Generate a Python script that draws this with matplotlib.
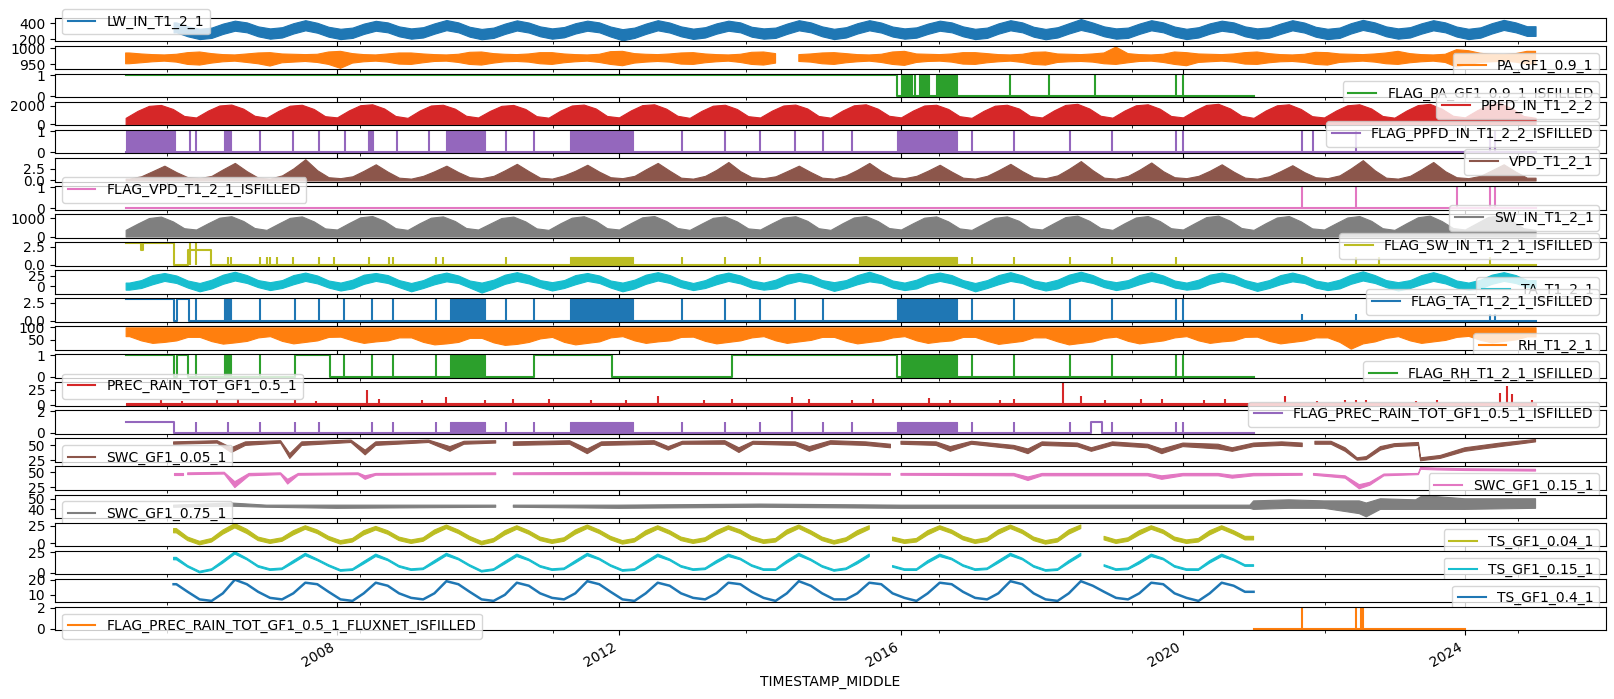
import numpy as np
import matplotlib
matplotlib.use("Agg")
import matplotlib.pyplot as plt
import matplotlib.dates as mdates
from matplotlib.lines import Line2D
from matplotlib.ticker import MultipleLocator

nan = np.nan
N = None

# ---- time helpers (decimal years) ----
YEARS = list(range(2005, 2026))
RAD = [0.0, 0.17, 0.33, 0.5, 0.67, 0.83]      # Jan, Mar, May, Jul, Sep, Nov (1st)
TMP = [0.05, 0.22, 0.38, 0.55, 0.72, 0.88]    # same months, 20th


def yr(v):
    v = np.atleast_1d(np.asarray(v, dtype=float))
    out = []
    for x in v:
        y = int(np.floor(x))
        out.append(np.datetime64(f"{y}-01-01") + np.timedelta64(int(round((x - y) * 365.25 * 86400)), "s"))
    return np.array(out)


def grid(rows, offs, start, end):
    t, v = [], []
    for y, row in zip(YEARS, rows):
        for o, val in zip(offs, row):
            if start <= y + o <= end:
                t.append(y + o)
                v.append(nan if val is None else val)
    if t[0] > start:
        t.insert(0, start); v.insert(0, v[0])
    if t[-1] < end:
        t.append(end); v.append(v[-1])
    return t, v


# ---- data (one row per year, 2005 ...) ----
lw_lo = [[N, N, N, N, 285, 235], [200, 215, 265, 305, 285, 235], [205, 220, 270, 310, 280, 230],
         [200, 215, 265, 305, 285, 235], [205, 220, 268, 312, 285, 230], [198, 215, 265, 308, 282, 235],
         [205, 222, 270, 305, 285, 232], [185, 215, 265, 310, 282, 235], [202, 220, 268, 305, 285, 230],
         [205, 215, 265, 310, 285, 235], [200, 220, 270, 310, 282, 232], [205, 218, 265, 305, 285, 235],
         [200, 215, 268, 310, 285, 230], [198, 220, 270, 315, 282, 235], [205, 215, 265, 310, 285, 232],
         [200, 220, 268, 305, 285, 235], [205, 218, 265, 310, 282, 230], [200, 215, 270, 315, 285, 235],
         [205, 220, 268, 310, 285, 232], [200, 218, 270, 315, 285, 240]]
lw_hi = [[N, N, N, N, 410, 360], [330, 345, 395, 432, 410, 360], [335, 350, 400, 438, 405, 355],
         [330, 345, 395, 430, 410, 360], [335, 350, 398, 440, 410, 355], [328, 345, 395, 436, 408, 360],
         [335, 352, 400, 432, 410, 358], [325, 345, 395, 438, 408, 360], [332, 350, 398, 432, 410, 355],
         [335, 345, 395, 438, 410, 360], [330, 350, 400, 438, 408, 358], [335, 348, 395, 432, 410, 360],
         [330, 345, 398, 438, 410, 355], [328, 350, 400, 452, 408, 360], [335, 345, 395, 438, 410, 358],
         [330, 350, 398, 432, 410, 360], [335, 348, 395, 438, 408, 355], [330, 345, 400, 442, 410, 360],
         [335, 350, 398, 438, 410, 358], [330, 348, 400, 442, 410, 362]]

pa_lo = [[952, 955, 958, 960, 957, 950], [948, 954, 958, 960, 956, 952], [945, 955, 957, 959, 956, 950],
         [938, 954, 958, 960, 957, 951], [950, 955, 959, 960, 956, 950], [948, 954, 958, 959, 957, 952],
         [950, 955, 958, 960, 956, 950], [946, 954, 957, 959, 957, 951], [950, 955, 958, 960, 956, 950],
         [948, 954, N, 959, 957, 952], [950, 955, 958, 960, 956, 950], [947, 956, 959, 960, 957, 951],
         [950, 955, 958, 960, 956, 950], [948, 956, 958, 959, 957, 952], [950, 955, 959, 960, 956, 950],
         [946, 956, 958, 960, 957, 951], [950, 955, 958, 959, 956, 950], [948, 956, 958, 960, 957, 952],
         [950, 955, 958, 960, 956, 942], [950, 956, 958, 960, 957, 951]]
pa_hi = [[985, 982, 980, 979, 981, 986], [988, 983, 980, 979, 982, 985], [986, 982, 981, 980, 981, 988],
         [990, 983, 980, 979, 982, 985], [985, 982, 980, 979, 981, 987], [988, 983, 981, 980, 982, 986],
         [986, 982, 980, 979, 981, 989], [990, 983, 981, 980, 982, 985], [986, 982, 980, 979, 981, 987],
         [988, 983, N, 980, 982, 985], [986, 983, 980, 979, 981, 988], [990, 982, 981, 980, 982, 986],
         [986, 983, 980, 979, 981, 987], [988, 982, 981, 980, 982, 985], [1003, 983, 980, 979, 981, 988],
         [986, 982, 981, 980, 982, 986], [988, 983, 980, 979, 981, 987], [986, 982, 981, 980, 982, 985],
         [990, 983, 980, 979, 981, 995], [992, 984, 981, 980, 983, 990]]

ppfd_hi = [[700, 1450, 1980, 2080, 1650, 900], [740, 1480, 2020, 2120, 1680, 920], [720, 1450, 2000, 2100, 1650, 880],
           [750, 1500, 2050, 2150, 1700, 900], [700, 1480, 2020, 2100, 1680, 920], [740, 1450, 1980, 2080, 1650, 880],
           [720, 1480, 2020, 2120, 1700, 900], [750, 1500, 2060, 2150, 1680, 920], [700, 1450, 2000, 2100, 1650, 880],
           [740, 1480, 2020, 2120, 1700, 900], [720, 1480, 2040, 2150, 1680, 920], [750, 1480, 2020, 2100, 1650, 880],
           [700, 1450, 2000, 2100, 1700, 900], [740, 1500, 2080, 2200, 1700, 920], [720, 1480, 2040, 2150, 1680, 900],
           [750, 1500, 2080, 2200, 1700, 920], [700, 1480, 2040, 2150, 1650, 880], [740, 1480, 2040, 2150, 1700, 900],
           [720, 1480, 2060, 2200, 1680, 920], [750, 1500, 2100, 2270, 1700, 900], [700]]
sw_hi = [[360, 700, 1000, 1080, 820, 450], [380, 720, 1020, 1100, 840, 460], [360, 700, 1010, 1090, 820, 440],
         [380, 730, 1040, 1110, 850, 450], [360, 720, 1020, 1090, 840, 460], [380, 700, 1000, 1080, 820, 440],
         [360, 720, 1020, 1100, 850, 450], [380, 730, 1040, 1110, 840, 460], [360, 700, 1010, 1090, 820, 440],
         [380, 720, 1020, 1100, 850, 450], [360, 720, 1030, 1110, 840, 460], [380, 720, 1020, 1090, 820, 440],
         [360, 700, 1010, 1090, 850, 450], [380, 730, 1050, 1130, 850, 460], [360, 720, 1030, 1110, 840, 450],
         [380, 730, 1050, 1130, 850, 460], [360, 720, 1030, 1110, 820, 440], [380, 720, 1030, 1110, 850, 450],
         [360, 720, 1040, 1130, 840, 460], [380, 730, 1060, 1150, 850, 450], [360]]
vpd_hi = [[0.4, 0.9, 2.0, 3.2, 1.8, 0.7], [0.5, 1.0, 2.4, 3.8, 2.0, 0.6], [0.4, 1.1, 2.6, 4.6, 2.2, 0.7],
          [0.5, 0.9, 2.1, 3.5, 1.9, 0.6], [0.4, 1.0, 2.0, 3.2, 1.8, 0.7], [0.5, 1.0, 2.2, 3.6, 2.0, 0.6],
          [0.4, 1.1, 2.1, 3.4, 1.9, 0.7], [0.5, 1.0, 2.4, 3.8, 2.1, 0.6], [0.4, 1.0, 2.3, 4.0, 2.0, 0.7],
          [0.5, 0.9, 2.0, 3.2, 1.8, 0.6], [0.4, 1.1, 2.3, 3.8, 2.0, 0.7], [0.5, 1.0, 2.1, 3.4, 1.9, 0.6],
          [0.4, 1.0, 2.2, 3.6, 2.0, 0.7], [0.5, 1.1, 2.5, 4.2, 2.2, 0.6], [0.4, 1.0, 2.3, 3.9, 2.0, 0.7],
          [0.5, 1.0, 2.1, 3.5, 1.9, 0.6], [0.4, 0.9, 2.0, 3.3, 1.8, 0.7], [0.5, 1.1, 2.6, 4.4, 2.2, 0.6],
          [0.4, 1.0, 2.4, 4.0, 2.0, 0.7], [0.5, 1.0, 2.2, 3.5, 1.9, 0.6]]
ta_lo = [[-8, -4, 5, 13, 8, -3], [-12, -5, 6, 14, 8, -2], [-9, -4, 5, 13, 7, -3], [-10, -5, 6, 13, 8, -2],
         [-12, -4, 5, 12, 8, -3], [-15, -5, 6, 13, 7, -2], [-10, -4, 5, 13, 8, -3], [-12, -5, 6, 14, 8, -2],
         [-9, -4, 5, 13, 7, -3], [-8, -5, 6, 13, 8, -2], [-11, -4, 5, 12, 8, -3], [-9, -5, 6, 13, 7, -2],
         [-12, -4, 5, 13, 8, -3], [-10, -5, 6, 14, 8, -2], [-9, -4, 5, 13, 7, -3], [-8, -5, 6, 13, 8, -2],
         [-11, -4, 5, 12, 8, -3], [-9, -5, 6, 14, 8, -2], [-10, -4, 5, 13, 7, -3], [-8, -5, 6, 13, 8, -2]]
ta_hi = [[9, 15, 27, 32, 26, 14], [8, 16, 28, 35, 27, 15], [10, 15, 27, 33, 26, 14], [9, 16, 28, 32, 27, 15],
         [8, 15, 27, 33, 26, 14], [9, 16, 28, 34, 27, 15], [10, 15, 27, 32, 26, 14], [9, 16, 28, 34, 27, 15],
         [8, 15, 27, 33, 26, 14], [9, 16, 28, 32, 27, 15], [10, 15, 27, 35, 26, 14], [9, 16, 28, 33, 27, 15],
         [8, 15, 27, 34, 26, 14], [9, 16, 28, 35, 27, 15], [10, 15, 27, 34, 26, 14], [9, 16, 28, 33, 27, 15],
         [8, 15, 27, 33, 26, 14], [9, 16, 28, 36, 27, 15], [10, 15, 27, 34, 26, 14], [9, 16, 28, 34, 27, 15]]
rh_lo = [[65, 48, 38, 42, 48, 62], [62, 45, 35, 40, 46, 60], [65, 46, 36, 42, 48, 62], [63, 48, 38, 44, 48, 60],
         [60, 42, 32, 36, 42, 58], [58, 40, 30, 34, 42, 56], [62, 42, 32, 38, 44, 60], [65, 48, 38, 44, 48, 62],
         [63, 46, 36, 42, 48, 60], [65, 48, 38, 44, 50, 62], [62, 46, 36, 42, 48, 60], [65, 48, 38, 44, 48, 62],
         [62, 46, 34, 40, 46, 60], [60, 44, 32, 38, 44, 58], [63, 46, 36, 42, 48, 60], [65, 48, 38, 44, 48, 62],
         [63, 46, 36, 42, 48, 60], [60, 42, 15, 36, 44, 58], [65, 48, 38, 44, 50, 62], [66, 50, 40, 46, 52, 64]]
ts04_lo = [[N, N, N, N, 15, 4], [-2, 2, 13, 22, 14, 4], [0, 3, 12, 20, 14, 5], [-1, 2, 12, 19, 13, 4],
           [0, 3, 13, 21, 14, 5], [-2, 2, 12, 20, 13, 4], [0, 3, 13, 21, 14, 5], [-1, 2, 12, 20, 13, 4],
           [0, 3, 12, 20, 14, 5], [0, 2, 13, 21, 13, 4], [-1, 3, 12, 20, N, 4], [0, 2, 12, 20, 14, 5],
           [0, 3, 13, 21, 14, 4], [-1, 2, 13, 21, N, 5], [0, 3, 12, 20, 14, 4], [0, 2, 12, 20, 13, 5]]
ts04_hi = [[N, N, N, N, 21, 9], [3, 7, 19, 28, 20, 9], [5, 8, 18, 25, 19, 10], [4, 7, 18, 24, 18, 9],
           [5, 8, 19, 26, 19, 10], [3, 7, 18, 25, 18, 9], [5, 8, 19, 26, 19, 10], [4, 7, 18, 25, 18, 9],
           [5, 8, 18, 25, 19, 10], [5, 7, 19, 26, 18, 9], [4, 8, 18, 25, N, 9], [5, 7, 18, 25, 19, 10],
           [5, 8, 19, 26, 19, 9], [4, 7, 19, 26, N, 10], [5, 8, 18, 25, 19, 9], [5, 7, 18, 25, 18, 10]]
ts15_lo = [[N, N, N, N, 16, 7], [0, 3, 12, 23, 16, 7], [3, 4, 12, 21, 15, 8], [2, 3, 11, 20, 15, 7],
           [3, 4, 12, 21, 16, 8], [1, 3, 11, 20, 15, 7], [3, 4, 12, 21, 16, 8], [2, 3, 11, 20, 15, 7],
           [3, 4, 12, 20, 16, 8], [3, 3, 12, 21, 15, 7], [2, 4, 11, 20, N, 7], [3, 3, 12, 20, 16, 8],
           [3, 4, 12, 21, 16, 7], [2, 3, 12, 21, N, 8], [3, 4, 11, 20, 16, 7], [3, 3, 12, 20, 15, 8]]
ts15_hi = [[N, N, N, N, 19, 9], [2, 5, 15, 26, 18, 9], [5, 6, 15, 24, 17, 10], [4, 5, 14, 23, 17, 9],
           [5, 6, 15, 24, 18, 10], [3, 5, 14, 23, 17, 9], [5, 6, 15, 24, 18, 10], [4, 5, 14, 23, 17, 9],
           [5, 6, 15, 23, 18, 10], [5, 5, 15, 24, 17, 9], [4, 6, 14, 23, N, 9], [5, 5, 15, 23, 18, 10],
           [5, 6, 15, 24, 18, 9], [4, 5, 15, 24, N, 10], [5, 6, 14, 23, 18, 9], [5, 5, 15, 23, 17, 10]]
ts4_v = [[N, N, N, N, 17, 12], [7, 6, 11, 20, 17, 12], [8, 7, 11, 18, 17, 12], [7, 6, 11, 18, 16, 11],
         [8, 7, 11, 19, 17, 12], [7, 6, 10, 18, 16, 11], [8, 7, 11, 19, 17, 12], [7, 6, 11, 18, 16, 11],
         [8, 7, 11, 18, 17, 12], [8, 6, 11, 19, 16, 11], [7, 7, 11, 18, 17, 11], [8, 6, 11, 18, 17, 12],
         [8, 7, 11, 19, 17, 11], [7, 6, 11, 19, 16, 12], [8, 7, 11, 18, 17, 11], [8, 6, 11, 18, 16, 12]]

prec_spikes = [(2005.5, 8), (2005.8, 6), (2006.3, 7), (2006.6, 9), (2007.4, 8), (2007.7, 6),
               (2008.42, 25), (2008.6, 10), (2009.2, 8), (2009.55, 12), (2010.1, 7), (2010.5, 10),
               (2011.0, 9), (2011.6, 8), (2012.1, 8), (2012.55, 14), (2013.2, 7), (2013.6, 10),
               (2014.45, 12), (2014.7, 9), (2015.3, 8), (2015.6, 10), (2016.4, 11), (2016.7, 8),
               (2017.4, 7), (2017.6, 9), (2018.3, 35), (2018.55, 15), (2018.9, 8), (2019.4, 10),
               (2019.7, 9), (2020.3, 8), (2020.6, 10), (2021.45, 15), (2021.9, 6), (2022.3, 8),
               (2022.45, 7), (2022.6, 8), (2023.3, 6), (2023.6, 8), (2024.5, 20), (2024.6, 30),
               (2024.67, 18), (2024.95, 7)]

swc05_t = [2005.68, 2006.3, 2006.5, 2006.7, 2007.2, 2007.33, 2007.5, 2008.2, 2008.4, 2008.55,
           2009.3, 2009.6, 2009.8, 2010.25, 2010.26, 2010.5, 2011.3, 2011.55, 2011.75, 2012.5,
           2012.7, 2012.9, 2013.5, 2013.7, 2013.9, 2014.5, 2014.7, 2015.0, 2015.5, 2015.85,
           2015.86, 2016.0, 2016.5, 2016.7, 2017.0, 2017.6, 2017.8, 2018.0, 2018.5, 2018.7,
           2019.0, 2019.5, 2019.7, 2020.0, 2020.5, 2020.7, 2021.0, 2021.4, 2021.69, 2021.7,
           2021.87, 2022.1, 2022.3, 2022.47, 2022.6, 2022.8, 2023.0, 2023.34, 2023.37, 2023.65,
           2024.0, 2024.5, 2025.0]
swc05_lo = [52, 54, 38, 50, 54, 28, 50, 55, 34, 50,
            55, 40, 52, 54, nan, 50, 52, 36, 50, 52,
            42, 52, 52, 38, 52, 50, 40, 52, 50, 46,
            nan, 52, 50, 40, 52, 44, 36, 50, 48, 40,
            50, 46, 36, 48, 44, 40, 48, 50, 48, nan,
            52, 52, 40, 25, 26, 42, 48, 50, 24, 28,
            40, 48, 56]
swc05_hi = [56, 58, 46, 56, 58, 36, 56, 59, 42, 56,
            59, 48, 57, 58, nan, 56, 58, 44, 56, 58,
            48, 57, 58, 46, 57, 56, 48, 58, 56, 52,
            nan, 57, 56, 48, 57, 50, 44, 56, 54, 46,
            56, 52, 44, 54, 52, 46, 54, 56, 54, nan,
            57, 57, 46, 29, 31, 48, 53, 55, 29, 33,
            46, 54, 60]

swc15_t = [2005.68, 2005.82, 2005.83, 2005.88, 2006.4, 2006.55, 2006.75, 2007.2, 2007.3, 2007.45,
           2008.3, 2008.4, 2008.55, 2010.25, 2010.26, 2010.5, 2012.0, 2014.0, 2015.85, 2015.86,
           2016.0, 2017.6, 2017.8, 2018.0, 2019.5, 2019.7, 2020.0, 2020.5, 2020.7, 2021.0,
           2021.69, 2021.7, 2021.85, 2022.3, 2022.5, 2022.65, 2022.85, 2023.34, 2023.37, 2023.6,
           2024.0, 2025.0]
swc15_lo = [46, 46, nan, 46, 47, 24, 44, 46, 30, 45,
            46, 38, 45, 46, nan, 46, 46, 46, 45, nan,
            45, 44, 36, 44, 44, 38, 44, 44, 40, 44,
            45, nan, 45, 40, 22, 28, 44, 46, 55, 54,
            53, 52]
swc15_hi = [49, 49, nan, 49, 50, 34, 48, 49, 38, 48,
            49, 44, 48, 49, nan, 49, 50, 49, 48, nan,
            48, 48, 42, 48, 48, 44, 48, 48, 45, 48,
            48, nan, 48, 44, 29, 33, 47, 48, 58, 57,
            56, 55]

swc75_t = [2005.68, 2006.5, 2007.0, 2008.0, 2010.25, 2010.26, 2010.5, 2012.0, 2014.0, 2016.0,
           2018.0, 2020.0, 2020.95, 2021.0, 2021.5, 2022.0, 2022.5, 2022.6, 2022.8, 2023.3,
           2023.4, 2024.0, 2025.0]
swc75_lo = [42, 43, 42, 41, 42, nan, 42, 41, 42, 41,
            41, 41, 41, 40, 41, 41, 36, 33, 40, 40,
            40, 40, 41]
swc75_hi = [44, 46, 44, 44, 44, nan, 44, 44, 45, 44,
            44, 44, 44, 48, 49, 48, 48, 46, 50, 49,
            53, 50, 50]

# flags: steps (start, level), end of record, spikes (t, height), dense blocks (t0, t1, height)
flag_pa = dict(steps=[(2005.0, 1), (2015.95, 0)], end=2021.0,
               spikes=[(2016.2, 1), (2017.55, 1), (2018.1, 1), (2018.75, 1), (2019.9, 1), (2020.0, 1)],
               blocks=[(2016.0, 2016.15, 1), (2016.25, 2016.4, 1), (2016.5, 2016.8, 1)])
flag_ppfd = dict(steps=[(2005.0, 0)], end=2025.0,
                 spikes=[(t, 1) for t in [2005.91, 2006.0, 2006.91, 2007.38, 2007.74, 2008.11, 2008.85,
                                          2009.3, 2010.4, 2010.8, 2012.9, 2013.5, 2014.0, 2014.5, 2014.9,
                                          2015.3, 2017.0, 2017.6, 2018.4, 2019.0, 2019.9, 2020.0,
                                          2021.69, 2021.84, 2022.45, 2024.35, 2024.42]],
                 blocks=[(2005.0, 2005.7, 1), (2006.4, 2006.5, 1), (2008.44, 2008.51, 1),
                         (2009.55, 2010.1, 1), (2011.3, 2012.2, 1), (2015.95, 2016.8, 1)])
flag_vpd = dict(steps=[(2005.0, 0)], end=2025.0,
                spikes=[(2021.68, 1), (2022.45, 1), (2023.88, 1), (2024.35, 1), (2024.42, 1)],
                blocks=[])
flag_sw = dict(steps=[(2005.0, 3), (2005.22, 2), (2005.25, 3), (2005.68, 0), (2005.89, 2), (2006.21, 0)],
               end=2025.0,
               spikes=[(2005.91, 3), (2006.0, 3)] + [(t, 1) for t in [2006.45, 2006.5, 2006.9, 2007.0, 2007.05,
                                                                    2007.15, 2007.38, 2007.74, 2007.95, 2008.46,
                                                                    2008.74, 2008.8, 2009.4, 2009.5, 2010.4,
                                                                    2012.9, 2013.5, 2014.0, 2017.0, 2017.6,
                                                                    2018.4, 2019.0, 2019.9, 2021.69, 2022.45,
                                                                    2022.78, 2024.35]],
               blocks=[(2011.3, 2012.2, 1), (2015.4, 2016.8, 1)])
flag_ta = dict(steps=[(2005.0, 3), (2005.68, 0), (2005.73, 3), (2005.9, 0)], end=2025.0,
               spikes=[(t, 3) for t in [2006.0, 2006.9, 2007.4, 2007.75, 2008.1, 2008.5, 2008.8, 2009.4,
                                        2010.4, 2010.8, 2012.9, 2013.5, 2014.0, 2014.5, 2014.9, 2017.0,
                                        2017.6, 2018.4, 2019.0, 2019.9, 2020.0]] +
                      [(2021.69, 1), (2022.45, 1), (2024.35, 1), (2024.42, 1)],
               blocks=[(2006.4, 2006.5, 3), (2009.6, 2010.1, 3), (2011.3, 2012.2, 3), (2015.95, 2016.8, 3)])
flag_rh = dict(steps=[(2005.0, 1), (2005.69, 0), (2005.73, 1), (2005.89, 0), (2007.4, 1), (2007.9, 0),
                      (2010.8, 1), (2011.9, 0), (2013.6, 1), (2015.95, 0)], end=2021.0,
               spikes=[(t, 1) for t in [2006.0, 2006.9, 2008.1, 2008.5, 2008.8, 2009.4, 2017.0, 2017.6,
                                        2018.4, 2019.0, 2019.9, 2020.0]],
               blocks=[(2006.4, 2006.5, 1), (2009.6, 2010.1, 1), (2016.0, 2016.8, 1)])
flag_prec = dict(steps=[(2005.0, 1), (2005.68, 0), (2018.7, 1), (2018.85, 0)], end=2021.0,
                 spikes=[(t, 1) for t in [2006.0, 2006.45, 2006.9, 2007.4, 2007.75, 2008.5, 2008.8, 2009.4,
                                          2010.4, 2010.8, 2012.9, 2013.5, 2014.0, 2014.9, 2015.3, 2017.0,
                                          2017.6, 2018.4, 2019.0, 2019.9, 2020.0]] + [(2014.45, 2)],
                 blocks=[(2009.6, 2010.1, 1), (2011.3, 2012.2, 1), (2015.95, 2016.8, 1)])
flag_flux = dict(steps=[(2021.0, 0)], end=2024.0,
                 spikes=[(2021.69, 2), (2022.45, 2), (2022.53, 2), (2022.56, 2)], blocks=[])

names = ["LW_IN_T1_2_1", "PA_GF1_0.9_1", "FLAG_PA_GF1_0.9_1_ISFILLED", "PPFD_IN_T1_2_2",
         "FLAG_PPFD_IN_T1_2_2_ISFILLED", "VPD_T1_2_1", "FLAG_VPD_T1_2_1_ISFILLED", "SW_IN_T1_2_1",
         "FLAG_SW_IN_T1_2_1_ISFILLED", "TA_T1_2_1", "FLAG_TA_T1_2_1_ISFILLED", "RH_T1_2_1",
         "FLAG_RH_T1_2_1_ISFILLED", "PREC_RAIN_TOT_GF1_0.5_1", "FLAG_PREC_RAIN_TOT_GF1_0.5_1_ISFILLED",
         "SWC_GF1_0.05_1", "SWC_GF1_0.15_1", "SWC_GF1_0.75_1", "TS_GF1_0.04_1", "TS_GF1_0.15_1",
         "TS_GF1_0.4_1", "FLAG_PREC_RAIN_TOT_GF1_0.5_1_FLUXNET_ISFILLED"]
legend_loc = ["lower left", "upper right", "upper right", "lower right", "lower right", "lower right",
              "lower left", "lower right", "lower right", "upper right", "lower right", "upper right",
              "upper right", "lower left", "lower right", "upper left", "upper right", "upper left",
              "upper right", "upper right", "upper right", "upper left"]

colors = plt.rcParams["axes.prop_cycle"].by_key()["color"]


def band(ax, t, lo, hi, c):
    ax.fill_between(yr(t), np.asarray(lo, float), np.asarray(hi, float), color=c, lw=0.8, edgecolor=c)


def gband(ax, lo_rows, hi_rows, offs, start, end, c):
    t, lo = grid(lo_rows, offs, start, end)
    _, hi = grid(hi_rows, offs, start, end)
    band(ax, t, lo, hi, c)


def gline(ax, rows, offs, start, end, c, lw=1.5):
    t, v = grid(rows, offs, start, end)
    ax.plot(yr(t), v, color=c, lw=lw)


def flag(ax, f, c):
    st = [s[0] for s in f["steps"]] + [f["end"]]
    sv = [s[1] for s in f["steps"]] + [f["steps"][-1][1]]
    ax.plot(yr(st), sv, drawstyle="steps-post", color=c, lw=1.5)
    if f["spikes"]:
        ax.vlines(yr([s[0] for s in f["spikes"]]), 0, [s[1] for s in f["spikes"]], color=c, lw=1.5)
    for a, b, h in f["blocks"]:
        ax.fill_between(yr([a, b]), 0, h, color=c, lw=0.8, edgecolor=c)


fig, axes = plt.subplots(22, 1, sharex=True, figsize=(16.14, 6.99), dpi=100)
fig.subplots_adjust(left=55 / 1614, right=1606 / 1614, top=1 - 18 / 699, bottom=1 - 630 / 699, hspace=0.2)

c = [colors[i % 10] for i in range(22)]
gband(axes[0], lw_lo, lw_hi, TMP, 2005.68, 2025.0, c[0])
gband(axes[1], pa_lo, pa_hi, TMP, 2005.0, 2025.0, c[1])
flag(axes[2], flag_pa, c[2])
t, v = grid(ppfd_hi, RAD, 2005.0, 2025.0)
band(axes[3], t, [0] * len(t), v, c[3])
flag(axes[4], flag_ppfd, c[4])
t, v = grid(vpd_hi, TMP, 2005.0, 2025.0)
band(axes[5], t, [0] * len(t), v, c[5])
flag(axes[6], flag_vpd, c[6])
t, v = grid(sw_hi, RAD, 2005.0, 2025.0)
band(axes[7], t, [0] * len(t), v, c[7])
flag(axes[8], flag_sw, c[8])
gband(axes[9], ta_lo, ta_hi, TMP, 2005.0, 2025.0, c[9])
flag(axes[10], flag_ta, c[10])
t, v = grid(rh_lo, TMP, 2005.0, 2025.0)
band(axes[11], t, v, [100] * len(t), c[11])
flag(axes[12], flag_rh, c[12])
band(axes[13], [2005.0, 2025.0], [0, 0], [3, 3], c[13])
axes[13].vlines(yr([s[0] for s in prec_spikes]), 0, [s[1] for s in prec_spikes], color=c[13], lw=1.5)
flag(axes[14], flag_prec, c[14])
band(axes[15], swc05_t, swc05_lo, swc05_hi, c[15])
band(axes[16], swc15_t, swc15_lo, swc15_hi, c[16])
band(axes[17], swc75_t, swc75_lo, swc75_hi, c[17])
gband(axes[18], ts04_lo, ts04_hi, TMP, 2005.68, 2021.0, c[18])
gband(axes[19], ts15_lo, ts15_hi, TMP, 2005.68, 2021.0, c[19])
gline(axes[20], ts4_v, TMP, 2005.68, 2021.0, c[20], lw=1.8)
flag(axes[21], flag_flux, c[21])

for i, ax in enumerate(axes):
    ax.legend(handles=[Line2D([0], [0], color=c[i], lw=1.5)], labels=[names[i]], loc=legend_loc[i])

ax = axes[-1]
ax.set_xlim(np.datetime64("2004-01-01T00:15"), np.datetime64("2025-12-31T23:45"))
ax.xaxis.set_major_locator(mdates.YearLocator(4))
ax.xaxis.set_major_formatter(mdates.DateFormatter("%Y"))
ax.xaxis.set_minor_locator(MultipleLocator(1000))
plt.setp(ax.get_xticklabels(), rotation=30, ha="right")
ax.set_xlabel("TIMESTAMP_MIDDLE")

plt.savefig("out.png")
